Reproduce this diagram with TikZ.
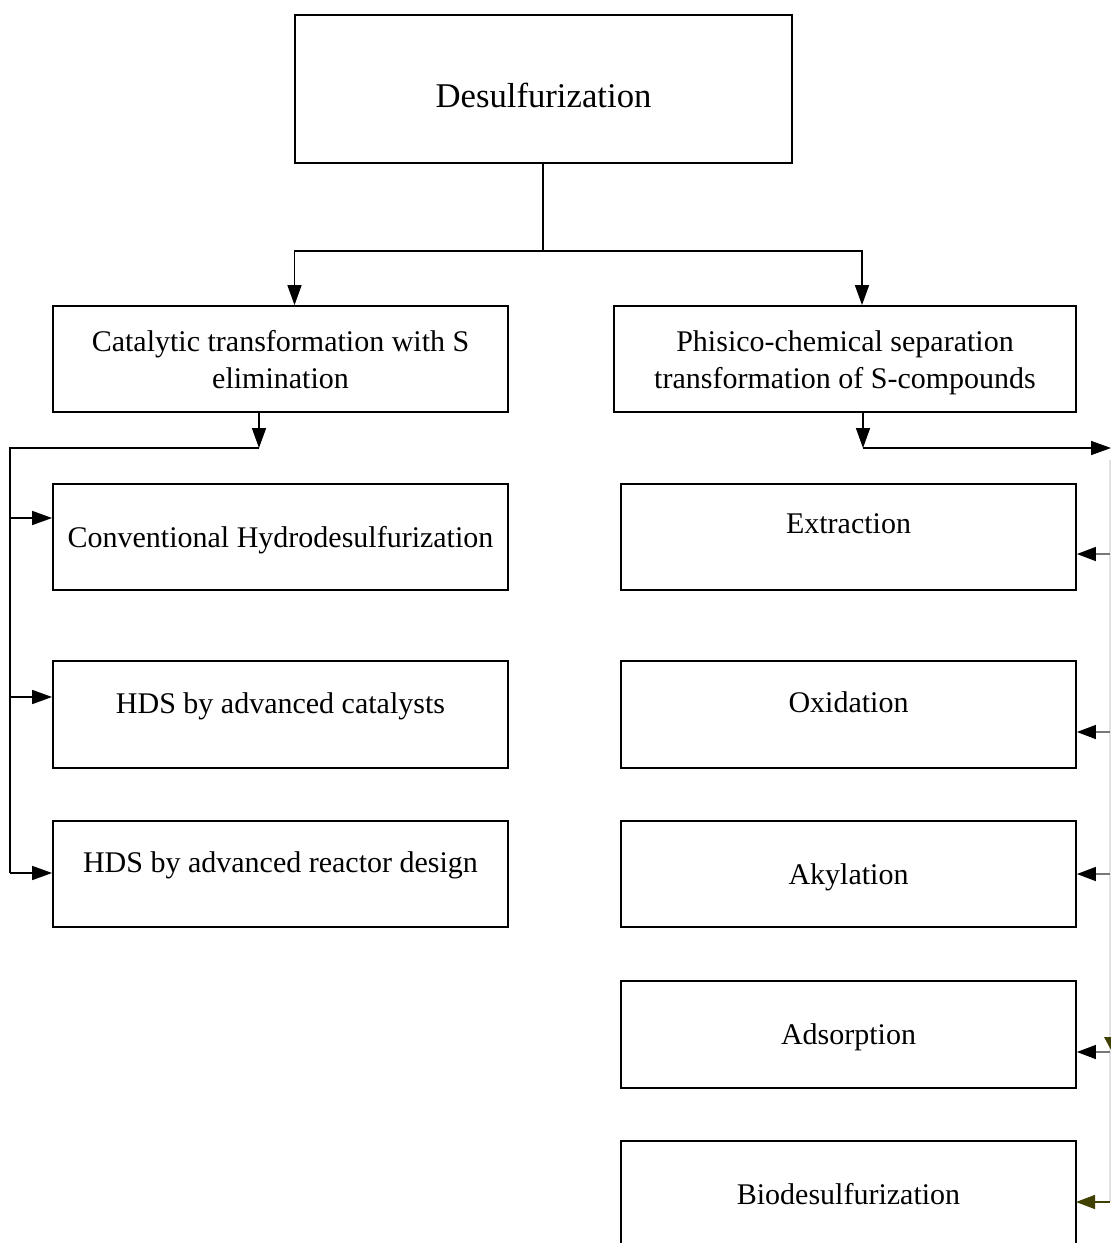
\documentclass[tikz,border=0pt]{standalone}
\usepackage{fontspec}
\setmainfont{Liberation Serif}
\usetikzlibrary{arrows.meta}
\definecolor{olivec}{RGB}{64,64,0}
\definecolor{busgray}{RGB}{225,225,225}
\definecolor{branchgray}{RGB}{120,120,120}
\begin{document}
\begin{tikzpicture}[x=1pt,y=-1pt,
  box/.style={draw, line width=1.8pt, inner sep=0pt, minimum width=#1},
  box/.default=455pt,
  txt/.style={anchor=base, inner sep=0pt, font=\fontsize{30}{36}\selectfont},
  bigtxt/.style={anchor=base, inner sep=0pt, font=\fontsize{34.7}{40}\selectfont},
  conn/.style={line width=1.6pt},
  arr/.style={conn, -{Triangle[length=20pt,width=14pt]}},
  garr/.style={line width=1.4pt, draw=branchgray, -{Triangle[length=19pt,width=14pt,color=black]}},
  oarr/.style={line width=1.4pt, draw=olivec, -{Triangle[length=19pt,width=14pt,color=olivec]}}
]
\clip (0,0) rectangle (1111,1243);
\fill[white] (0,0) rectangle (1111,1243);

% boxes
\node[box=497pt, minimum height=148pt] (top) at (543.5,89) {};
\node[box=455pt, minimum height=106pt] (cat) at (280.5,359) {};
\node[box=462pt, minimum height=106pt] (phys) at (845,359) {};
\node[box, minimum height=106pt] (L1) at (280.5,537) {};
\node[box, minimum height=107pt] (L2) at (280.5,714.5) {};
\node[box, minimum height=106pt] (L3) at (280.5,874) {};
\node[box, minimum height=106pt] (R1) at (848.5,537) {};
\node[box, minimum height=107pt] (R2) at (848.5,714.5) {};
\node[box, minimum height=106pt] (R3) at (848.5,874) {};
\node[box, minimum height=107pt] (R4) at (848.5,1034.5) {};
\node[box, minimum height=120pt] (R5) at (848.5,1201) {};

% texts
\node[bigtxt] (tTop) at (543.5,107) {Desulfurization};
\node[txt] (tCat1) at (280.5,351) {Catalytic transformation with S};
\node[txt] (tCat2) at (280.5,388) {elimination};
\node[txt] (tPhys1) at (845,351) {Phisico-chemical separation};
\node[txt] (tPhys2) at (845,388) {transformation of S-compounds};
\node[txt] (tL1) at (280.5,547) {Conventional Hydrodesulfurization};
\node[txt] (tL2) at (280.5,713) {HDS by advanced catalysts};
\node[txt] (tL3) at (280.5,872) {HDS by advanced reactor design};
\node[txt] (tR1) at (848.5,533) {Extraction};
\node[txt] (tR2) at (848.5,712) {Oxidation};
\node[txt] (tR3) at (848.5,884) {Akylation};
\node[txt] (tR4) at (848.5,1044) {Adsorption};
\node[txt] (tR5) at (848.5,1204) {Biodesulfurization};

% top split
\coordinate (j0) at (543,251);
\draw[conn] ([xshift=-0.5pt]top.south) -- (j0);
\draw[arr] (j0) -| ([xshift=14pt]cat.north);
\draw[arr] (j0) -| ([xshift=17pt]phys.north);

% left bus
\coordinate (lb) at (259,448);
\coordinate (lbus) at (10,448);
\coordinate (a1) at ([yshift=19pt]L1.west);
\coordinate (a2) at ([yshift=17.5pt]L2.west);
\coordinate (a3) at ([yshift=1pt]L3.west);
\draw[arr] ([xshift=-21.5pt]cat.south) -- (lb);
\draw[conn] (lb) -- (lbus) -- (a3 -| lbus);
\draw[arr] (a1 -| lbus) -- (a1);
\draw[arr] (a2 -| lbus) -- (a2);
\draw[arr] (a3 -| lbus) -- (a3);

% right bus
\coordinate (rb) at (863,448);
\coordinate (rend) at (1111,448);
\coordinate (b1) at ([yshift=-17pt]R1.east);
\coordinate (b2) at ([yshift=-17.5pt]R2.east);
\coordinate (b3) at (R3.east);
\coordinate (b4) at ([yshift=-17.5pt]R4.east);
\coordinate (b5) at (1076,1202);
\coordinate (rbus) at (1110,448);
\draw[arr] ([xshift=18pt]phys.south) -- (rb);
\draw[arr] (rb) -- (rend);
\draw[line width=1.3pt, draw=busgray] ([yshift=-12pt]rbus) -- (b5 -| rbus);
\draw[garr] (b1 -| rbus) -- (b1);
\draw[garr] (b2 -| rbus) -- (b2);
\draw[garr] (b3 -| rbus) -- (b3);
\draw[garr] (b4 -| rbus) -- (b4);
\draw[oarr] (b5 -| rbus) -- (b5);
\fill[olivec] (1104,1037) -- (1117,1037) -- (1110.5,1049) -- cycle;
\end{tikzpicture}
\end{document}
